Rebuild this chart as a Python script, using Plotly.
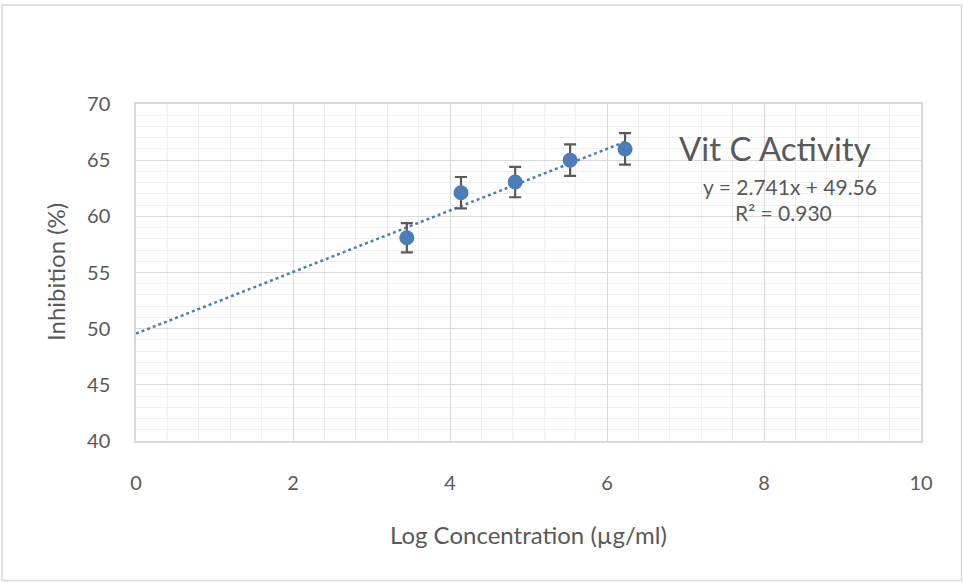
import plotly.graph_objects as go

# Data
log_conc = [3.45, 4.14, 4.83, 5.53, 6.23]
inhibition = [58.1, 62.1, 63.05, 65.0, 66.0]
err = [1.3, 1.4, 1.35, 1.4, 1.4]

slope = 2.741
intercept = 49.56
trend_x = [0, 6.23]
trend_y = [intercept + slope * v for v in trend_x]

x_ticks = [0, 2, 4, 6, 8, 10]
y_ticks = [40, 45, 50, 55, 60, 65, 70]

W, H = 963, 583
L, R, T, B = 136, 42, 104, 142
pw, ph = W - L - R, H - T - B

FONT = "Lato"
GRAY = "#595959"

fig = go.Figure()
fig.add_trace(go.Scatter(
    x=trend_x, y=trend_y, mode="lines",
    line=dict(color="#4a7ebb", width=2.5, dash="dot"),
    hoverinfo="skip", showlegend=False))
fig.add_trace(go.Scatter(
    x=log_conc, y=inhibition, mode="markers",
    marker=dict(color="#4a7ebb", size=15),
    error_y=dict(type="data", array=err, color="#595959", thickness=2.2, width=6),
    showlegend=False))

axis_common = dict(
    showgrid=True, gridcolor="#d9d9d9", gridwidth=1,
    showline=True, linecolor="#d9d9d9", linewidth=1.5, mirror=True,
    zeroline=False, ticks="",
    tickfont=dict(family=FONT, size=20, color=GRAY),
)

fig.update_layout(
    width=W, height=H,
    margin=dict(l=L, r=R, t=T, b=B),
    paper_bgcolor="white", plot_bgcolor="white",
    xaxis=dict(range=[0, 10], tickvals=x_ticks, ticklabelstandoff=23,
               minor=dict(dtick=0.4, showgrid=True, gridcolor="#efefef", gridwidth=1),
               **axis_common),
    yaxis=dict(range=[40, 70], tickvals=y_ticks, ticklabelstandoff=20,
               minor=dict(dtick=1, showgrid=True, gridcolor="#efefef", gridwidth=1),
               **axis_common),
    font=dict(family=FONT, color=GRAY),
)

def px(xp):
    return (xp - L) / pw

def py(yp):
    return (H - B - yp) / ph

fig.add_shape(type="rect", xref="paper", yref="paper",
              x0=px(2), x1=px(961.5), y0=py(580.5), y1=py(5),
              line=dict(color="#d9d9d9", width=1.5), layer="below")

def note(xp, yp, text, size, angle=0):
    fig.add_annotation(x=px(xp), y=py(yp), xref="paper", yref="paper",
                       xanchor="center", yanchor="middle",
                       text=text, showarrow=False, textangle=angle,
                       font=dict(family=FONT, size=size, color=GRAY))

note(528, 534, "Log Concentration (µg/ml)", 24)
note(55, 272, "Inhibition (%)", 24, -90)
note(775, 148, "Vit C Activity", 33)
note(790, 186, "y = 2.741x + 49.56", 21)
note(783, 212, "R² = 0.930", 21)

fig.write_html("out.html")
